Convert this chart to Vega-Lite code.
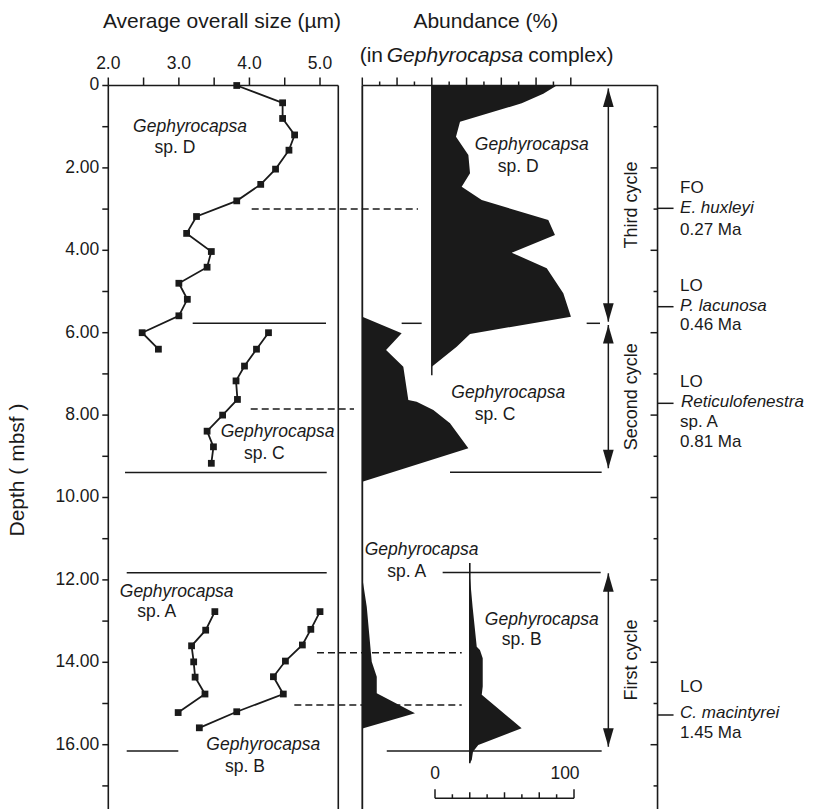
{
"$schema":"https://vega.github.io/schema/vega-lite/v6.json",
"width":814,"height":809,
"autosize":{"type":"none"},
"padding":0,
"background":"white",
"config":{"font":"Liberation Sans","view":{"stroke":null},"text":{"color":"#1a1a1a"}},
"datasets":{
"size":[
{"sp":"D","depth":0,"size":3.82},{"sp":"D","depth":0.42,"size":4.47},{"sp":"D","depth":0.8,"size":4.47},{"sp":"D","depth":1.2,"size":4.64},{"sp":"D","depth":1.57,"size":4.56},{"sp":"D","depth":2.03,"size":4.37},{"sp":"D","depth":2.4,"size":4.16},{"sp":"D","depth":2.8,"size":3.82},{"sp":"D","depth":3.18,"size":3.25},{"sp":"D","depth":3.59,"size":3.11},{"sp":"D","depth":4.03,"size":3.46},{"sp":"D","depth":4.41,"size":3.4},{"sp":"D","depth":4.8,"size":3.0},{"sp":"D","depth":5.19,"size":3.12},{"sp":"D","depth":5.59,"size":3.0},{"sp":"D","depth":6.0,"size":2.48},{"sp":"D","depth":6.4,"size":2.71},
{"sp":"C","depth":6.0,"size":4.27},{"sp":"C","depth":6.4,"size":4.1},{"sp":"C","depth":6.81,"size":3.93},{"sp":"C","depth":7.17,"size":3.81},{"sp":"C","depth":7.62,"size":3.83},{"sp":"C","depth":8.0,"size":3.62},{"sp":"C","depth":8.39,"size":3.4},{"sp":"C","depth":8.77,"size":3.49},{"sp":"C","depth":9.17,"size":3.46},
{"sp":"A","depth":12.77,"size":3.51},{"sp":"A","depth":13.22,"size":3.38},{"sp":"A","depth":13.6,"size":3.18},{"sp":"A","depth":13.99,"size":3.21},{"sp":"A","depth":14.36,"size":3.23},{"sp":"A","depth":14.77,"size":3.37},{"sp":"A","depth":15.22,"size":2.99},
{"sp":"B","depth":12.77,"size":5.0},{"sp":"B","depth":13.2,"size":4.87},{"sp":"B","depth":13.58,"size":4.75},{"sp":"B","depth":13.97,"size":4.51},{"sp":"B","depth":14.35,"size":4.34},{"sp":"B","depth":14.77,"size":4.48},{"sp":"B","depth":15.2,"size":3.82},{"sp":"B","depth":15.59,"size":3.29}
],
"poly":[
{"sp":"D","d":0,"v":89.9},{"sp":"D","d":0.2,"v":80.2},{"sp":"D","d":0.432,"v":64.7},{"sp":"D","d":0.879,"v":20.3},{"sp":"D","d":1.243,"v":17.4},{"sp":"D","d":1.687,"v":26.3},{"sp":"D","d":2.131,"v":27.5},{"sp":"D","d":2.456,"v":21.5},{"sp":"D","d":2.779,"v":35.9},{"sp":"D","d":3.265,"v":83.8},{"sp":"D","d":3.629,"v":88.6},{"sp":"D","d":4.058,"v":57.5},{"sp":"D","d":4.437,"v":82.7},{"sp":"D","d":5.04,"v":94.6},{"sp":"D","d":5.612,"v":100.1},{"sp":"D","d":6.03,"v":27.5},{"sp":"D","d":6.34,"v":17.9},{"sp":"D","d":6.825,"v":0},
{"sp":"C","d":5.612,"v":0},{"sp":"C","d":6.015,"v":28.3},{"sp":"C","d":6.42,"v":17.1},{"sp":"C","d":6.825,"v":29.5},{"sp":"C","d":7.633,"v":33.1},{"sp":"C","d":7.675,"v":39.1},{"sp":"C","d":7.876,"v":51.1},{"sp":"C","d":8.199,"v":63.1},{"sp":"C","d":8.806,"v":76.3},{"sp":"C","d":9.617,"v":0},
{"sp":"A","d":11.95,"v":0},{"sp":"A","d":12.65,"v":3.2},{"sp":"A","d":13.7,"v":6.0},{"sp":"A","d":13.985,"v":6.8},{"sp":"A","d":14.35,"v":10.4},{"sp":"A","d":14.75,"v":10.4},{"sp":"A","d":15.238,"v":37.9},{"sp":"A","d":15.6,"v":0.7},{"sp":"A","d":15.62,"v":0},
{"sp":"B","d":11.9,"v":0},{"sp":"B","d":12.65,"v":2.0},{"sp":"B","d":13.62,"v":5.0},{"sp":"B","d":13.7,"v":7.3},{"sp":"B","d":13.9,"v":9.3},{"sp":"B","d":14.59,"v":9.3},{"sp":"B","d":14.79,"v":8.6},{"sp":"B","d":15.6,"v":37.3},{"sp":"B","d":16.01,"v":6.1},{"sp":"B","d":16.17,"v":2.3},{"sp":"B","d":16.37,"v":1.4},{"sp":"B","d":16.44,"v":0}
],
"lhl":[{"d":5.772,"a":3.196,"b":5.085},{"d":9.393,"a":2.237,"b":5.095},{"d":11.825,"a":2.261,"b":5.095},{"d":16.153,"a":2.261,"b":2.992}],
"dash":[{"d":2.998,"a":4.032,"b":6.389},{"d":7.852,"a":4.018,"b":5.482},{"d":13.767,"a":4.957,"b":7.008},{"d":15.036,"a":4.636,"b":7.008}],
"rhl":[{"d":9.39,"a":63.1,"b":172.2},{"d":11.82,"a":57.8,"b":171.5},{"d":16.15,"a":17.6,"b":172.2},{"d":5.772,"a":28.3,"b":42.7},{"d":5.772,"a":161.4,"b":171.0}],
"tt":[{"v":0,"k":"M"},{"v":12.5,"k":"m"},{"v":25,"k":"M"},{"v":37.5,"k":"m"},{"v":50,"k":"M"},{"v":62.5,"k":"m"},{"v":75,"k":"M"},{"v":87.5,"k":"m"},{"v":100,"k":"M"},{"v":112.5,"k":"m"},{"v":125,"k":"M"},{"v":137.5,"k":"m"},{"v":150,"k":"M"}],
"rt":[{"d":1,"k":"m"},{"d":2,"k":"M"},{"d":3,"k":"m"},{"d":4,"k":"M"},{"d":5,"k":"m"},{"d":6,"k":"M"},{"d":7,"k":"m"},{"d":8,"k":"M"},{"d":9,"k":"m"},{"d":10,"k":"M"},{"d":11,"k":"m"},{"d":12,"k":"M"},{"d":13,"k":"m"},{"d":14,"k":"M"},{"d":15,"k":"m"},{"d":16,"k":"M"},{"d":17,"k":"m"}],
"yt":[{"d":0},{"d":1},{"d":2},{"d":3},{"d":4},{"d":5},{"d":6},{"d":7},{"d":8},{"d":9},{"d":10},{"d":11},{"d":12},{"d":13},{"d":14},{"d":15},{"d":16},{"d":17}],
"ylab":[{"d":0,"t":"0"},{"d":2,"t":"2.00"},{"d":4,"t":"4.00"},{"d":6,"t":"6.00"},{"d":8,"t":"8.00"},{"d":10,"t":"10.00"},{"d":12,"t":"12.00"},{"d":14,"t":"14.00"},{"d":16,"t":"16.00"}],
"xt":[{"v":2.0},{"v":2.5},{"v":3.0},{"v":3.5},{"v":4.0},{"v":4.5},{"v":5.0}],
"xlab":[{"v":2.0,"t":"2.0"},{"v":3.0,"t":"3.0"},{"v":4.0,"t":"4.0"},{"v":5.0,"t":"5.0"}],
"ev":[{"d":2.981},{"d":5.369},{"d":7.714},{"d":15.279}],
"arr":[{"top":0.07,"bot":5.733},{"top":5.813,"bot":9.29},{"top":11.84,"bot":16.05}],
"cyc":[{"t":"Third cycle","d":2.9},{"t":"Second cycle","d":7.553},{"t":"First cycle","d":13.944}],
"sbt":[{"v":0,"k":"E"},{"v":12.5,"k":"m"},{"v":25,"k":"M"},{"v":37.5,"k":"m"},{"v":50,"k":"M"},{"v":62.5,"k":"m"},{"v":75,"k":"M"},{"v":87.5,"k":"m"},{"v":100,"k":"E"}],
"labels":[
{"p":"L","t":"Gephyrocapsa","x":3.158,"d":1.0,"s":"i","a":"c"},
{"p":"L","t":"sp. D","x":2.945,"d":1.517,"s":"n","a":"c"},
{"p":"L","t":"Gephyrocapsa","x":4.4,"d":8.403,"s":"i","a":"c"},
{"p":"L","t":"sp. C","x":4.211,"d":8.944,"s":"n","a":"c"},
{"p":"L","t":"Gephyrocapsa","x":2.969,"d":12.286,"s":"i","a":"c"},
{"p":"L","t":"sp. A","x":2.686,"d":12.772,"s":"n","a":"c"},
{"p":"L","t":"Gephyrocapsa","x":4.196,"d":16.007,"s":"i","a":"c"},
{"p":"L","t":"sp. B","x":3.937,"d":16.549,"s":"n","a":"c"},
{"p":"R","t":"Gephyrocapsa","x":121.9,"d":1.444,"s":"i","a":"c"},
{"p":"R","t":"sp. D","x":112.2,"d":1.985,"s":"n","a":"c"},
{"p":"R","t":"Gephyrocapsa","x":105.0,"d":7.471,"s":"i","a":"c"},
{"p":"R","t":"sp. C","x":95.5,"d":7.998,"s":"n","a":"c"},
{"p":"R","t":"Gephyrocapsa","x":42.7,"d":11.274,"s":"i","a":"c"},
{"p":"R","t":"sp. A","x":31.9,"d":11.801,"s":"n","a":"c"},
{"p":"R","t":"Gephyrocapsa","x":129.1,"d":12.973,"s":"i","a":"c"},
{"p":"R","t":"sp. B","x":114.7,"d":13.459,"s":"n","a":"c"},
{"p":"R","t":"FO","x":228.6,"d":2.495,"s":"n","a":"l"},
{"p":"R","t":"E. huxleyi","x":228.6,"d":2.981,"s":"i","a":"l"},
{"p":"R","t":"0.27 Ma","x":228.6,"d":3.507,"s":"n","a":"l"},
{"p":"R","t":"LO","x":228.6,"d":4.86,"s":"n","a":"l"},
{"p":"R","t":"P. lacunosa","x":228.6,"d":5.34,"s":"i","a":"l"},
{"p":"R","t":"0.46 Ma","x":228.6,"d":5.82,"s":"n","a":"l"},
{"p":"R","t":"LO","x":228.6,"d":7.189,"s":"n","a":"l"},
{"p":"R","t":"Reticulofenestra","x":229.3,"d":7.675,"s":"i","a":"l"},
{"p":"R","t":"sp. A","x":228.6,"d":8.16,"s":"n","a":"l"},
{"p":"R","t":"0.81 Ma","x":228.6,"d":8.646,"s":"n","a":"l"},
{"p":"R","t":"LO","x":228.6,"d":14.592,"s":"n","a":"l"},
{"p":"R","t":"C. macintyrei","x":228.6,"d":15.238,"s":"i","a":"l"},
{"p":"R","t":"1.45 Ma","x":228.6,"d":15.723,"s":"n","a":"l"}
]
},
"layer":[
{
"layer":[
{"data":{"name":"size"},"mark":{"type":"line","color":"#1a1a1a","strokeWidth":1.8},
"encoding":{
"x":{"field":"size","type":"quantitative","scale":{"domain":[0.4654,12.0],"nice":false,"zero":false},"axis":null},
"y":{"field":"depth","type":"quantitative","scale":{"domain":[-2.0752,17.5607],"reverse":true,"nice":false,"zero":false},"axis":null},
"detail":{"field":"sp"},
"order":{"field":"depth","type":"quantitative"}}},
{"data":{"name":"size"},"mark":{"type":"point","shape":"square","filled":true,"size":46,"color":"#1a1a1a","opacity":1},
"encoding":{
"x":{"field":"size","type":"quantitative","scale":{"domain":[0.4654,12.0],"nice":false,"zero":false},"axis":null},
"y":{"field":"depth","type":"quantitative","scale":{"domain":[-2.0752,17.5607],"reverse":true,"nice":false,"zero":false},"axis":null}}},
{"data":{"name":"lhl"},"mark":{"type":"rule","color":"#1a1a1a","strokeWidth":1.5},
"encoding":{
"x":{"field":"a","type":"quantitative","scale":{"domain":[0.4654,12.0],"nice":false,"zero":false},"axis":null},
"x2":{"field":"b"},
"y":{"field":"d","type":"quantitative","scale":{"domain":[-2.0752,17.5607],"reverse":true,"nice":false,"zero":false},"axis":null}}},
{"data":{"name":"dash"},"mark":{"type":"rule","color":"#1a1a1a","strokeWidth":1.5,"strokeDash":[7,4]},
"encoding":{
"x":{"field":"a","type":"quantitative","scale":{"domain":[0.4654,12.0],"nice":false,"zero":false},"axis":null},
"x2":{"field":"b"},
"y":{"field":"d","type":"quantitative","scale":{"domain":[-2.0752,17.5607],"reverse":true,"nice":false,"zero":false},"axis":null}}},
{"data":{"values":[{}]},"mark":{"type":"rule","color":"#1a1a1a","strokeWidth":1.6},
"encoding":{
"x":{"datum":2.0,"type":"quantitative","scale":{"domain":[0.4654,12.0],"nice":false,"zero":false},"axis":null},
"y":{"datum":0,"type":"quantitative","scale":{"domain":[-2.0752,17.5607],"reverse":true,"nice":false,"zero":false},"axis":null},
"y2":{"datum":17.6}}},
{"data":{"values":[{}]},"mark":{"type":"rule","color":"#1a1a1a","strokeWidth":1.6},
"encoding":{
"x":{"datum":5.259,"type":"quantitative","scale":{"domain":[0.4654,12.0],"nice":false,"zero":false},"axis":null},
"y":{"datum":0,"type":"quantitative","scale":{"domain":[-2.0752,17.5607],"reverse":true,"nice":false,"zero":false},"axis":null},
"y2":{"datum":17.6}}},
{"data":{"values":[{}]},"mark":{"type":"rule","color":"#1a1a1a","strokeWidth":1.6},
"encoding":{
"x":{"datum":2.0,"type":"quantitative","scale":{"domain":[0.4654,12.0],"nice":false,"zero":false},"axis":null},
"x2":{"datum":5.259},
"y":{"datum":0,"type":"quantitative","scale":{"domain":[-2.0752,17.5607],"reverse":true,"nice":false,"zero":false},"axis":null}}},
{"data":{"name":"yt"},"mark":{"type":"rule","color":"#1a1a1a","strokeWidth":1.5,"x2Offset":-6},
"encoding":{
"x":{"datum":2.0,"type":"quantitative","scale":{"domain":[0.4654,12.0],"nice":false,"zero":false},"axis":null},
"x2":{"datum":2.0},
"y":{"field":"d","type":"quantitative","scale":{"domain":[-2.0752,17.5607],"reverse":true,"nice":false,"zero":false},"axis":null}}},
{"data":{"name":"ylab"},"mark":{"type":"text","fontSize":17.5,"align":"right","baseline":"middle","dx":-9,"color":"#1a1a1a"},
"encoding":{"text":{"field":"t"},
"x":{"datum":2.0,"type":"quantitative","scale":{"domain":[0.4654,12.0],"nice":false,"zero":false},"axis":null},
"y":{"field":"d","type":"quantitative","scale":{"domain":[-2.0752,17.5607],"reverse":true,"nice":false,"zero":false},"axis":null}}},
{"data":{"name":"xt"},"mark":{"type":"rule","color":"#1a1a1a","strokeWidth":1.5,"y2Offset":-8},
"encoding":{
"x":{"field":"v","type":"quantitative","scale":{"domain":[0.4654,12.0],"nice":false,"zero":false},"axis":null},
"y":{"datum":0,"type":"quantitative","scale":{"domain":[-2.0752,17.5607],"reverse":true,"nice":false,"zero":false},"axis":null},
"y2":{"datum":0}}},
{"data":{"name":"xlab"},"mark":{"type":"text","fontSize":17.5,"align":"center","baseline":"alphabetic","dy":-16,"color":"#1a1a1a"},
"encoding":{"text":{"field":"t"},
"x":{"field":"v","type":"quantitative","scale":{"domain":[0.4654,12.0],"nice":false,"zero":false},"axis":null},
"y":{"datum":0,"type":"quantitative","scale":{"domain":[-2.0752,17.5607],"reverse":true,"nice":false,"zero":false},"axis":null}}},
{"data":{"values":[{}]},"mark":{"type":"text","fontSize":21,"angle":270,"align":"center","baseline":"middle","color":"#1a1a1a","text":"Depth ( mbsf )"},
"encoding":{
"x":{"datum":0.7204,"type":"quantitative","scale":{"domain":[0.4654,12.0],"nice":false,"zero":false},"axis":null},
"y":{"datum":9.333,"type":"quantitative","scale":{"domain":[-2.0752,17.5607],"reverse":true,"nice":false,"zero":false},"axis":null}}},
{"data":{"name":"labels"},"transform":[{"filter":"datum.p == 'L' && datum.s == 'i'"}],
"mark":{"type":"text","fontSize":17.5,"fontStyle":"italic","align":"center","baseline":"middle","color":"#1a1a1a"},
"encoding":{"text":{"field":"t"},
"x":{"field":"x","type":"quantitative","scale":{"domain":[0.4654,12.0],"nice":false,"zero":false},"axis":null},
"y":{"field":"d","type":"quantitative","scale":{"domain":[-2.0752,17.5607],"reverse":true,"nice":false,"zero":false},"axis":null}}},
{"data":{"name":"labels"},"transform":[{"filter":"datum.p == 'L' && datum.s == 'n'"}],
"mark":{"type":"text","fontSize":17.5,"align":"center","baseline":"middle","color":"#1a1a1a"},
"encoding":{"text":{"field":"t"},
"x":{"field":"x","type":"quantitative","scale":{"domain":[0.4654,12.0],"nice":false,"zero":false},"axis":null},
"y":{"field":"d","type":"quantitative","scale":{"domain":[-2.0752,17.5607],"reverse":true,"nice":false,"zero":false},"axis":null}}},
{"data":{"values":[{}]},"mark":{"type":"text","fontSize":21,"align":"center","baseline":"alphabetic","color":"#1a1a1a","text":"Average overall size  (µm)"},
"encoding":{
"x":{"datum":3.611,"type":"quantitative","scale":{"domain":[0.4654,12.0],"nice":false,"zero":false},"axis":null},
"y":{"datum":-1.389,"type":"quantitative","scale":{"domain":[-2.0752,17.5607],"reverse":true,"nice":false,"zero":false},"axis":null}}}
]
},
{
"layer":[
{"data":{"name":"poly"},"transform":[{"filter":"datum.sp == 'C'"}],
"mark":{"type":"area","orient":"horizontal","color":"#1a1a1a","opacity":1},
"encoding":{
"x":{"field":"v","type":"quantitative","stack":null,"scale":{"domain":[-260.65,324.96],"nice":false,"zero":false},"axis":null},
"y":{"field":"d","type":"quantitative","scale":{"domain":[-2.0752,17.5607],"reverse":true,"nice":false,"zero":false},"axis":null}}},
{"data":{"name":"poly"},"transform":[{"filter":"datum.sp == 'A'"}],
"mark":{"type":"area","orient":"horizontal","color":"#1a1a1a","opacity":1},
"encoding":{
"x":{"field":"v","type":"quantitative","stack":null,"scale":{"domain":[-260.65,324.96],"nice":false,"zero":false},"axis":null},
"y":{"field":"d","type":"quantitative","scale":{"domain":[-2.0752,17.5607],"reverse":true,"nice":false,"zero":false},"axis":null}}},
{"data":{"values":[{}]},"mark":{"type":"rule","color":"#1a1a1a","strokeWidth":1.8},
"encoding":{
"x":{"datum":0,"type":"quantitative","scale":{"domain":[-260.65,324.96],"nice":false,"zero":false},"axis":null},
"y":{"datum":0,"type":"quantitative","scale":{"domain":[-2.0752,17.5607],"reverse":true,"nice":false,"zero":false},"axis":null},
"y2":{"datum":17.6}}},
{"data":{"values":[{}]},"mark":{"type":"rule","color":"#1a1a1a","strokeWidth":1.6},
"encoding":{
"x":{"datum":212.4,"type":"quantitative","scale":{"domain":[-260.65,324.96],"nice":false,"zero":false},"axis":null},
"y":{"datum":0,"type":"quantitative","scale":{"domain":[-2.0752,17.5607],"reverse":true,"nice":false,"zero":false},"axis":null},
"y2":{"datum":17.6}}},
{"data":{"values":[{}]},"mark":{"type":"rule","color":"#1a1a1a","strokeWidth":1.6},
"encoding":{
"x":{"datum":0,"type":"quantitative","scale":{"domain":[-260.65,324.96],"nice":false,"zero":false},"axis":null},
"x2":{"datum":212.4},
"y":{"datum":0,"type":"quantitative","scale":{"domain":[-2.0752,17.5607],"reverse":true,"nice":false,"zero":false},"axis":null}}},
{"data":{"name":"tt"},"transform":[{"filter":"datum.k == 'M'"}],"mark":{"type":"rule","color":"#1a1a1a","strokeWidth":1.5,"y2Offset":-8},
"encoding":{
"x":{"field":"v","type":"quantitative","scale":{"domain":[-260.65,324.96],"nice":false,"zero":false},"axis":null},
"y":{"datum":0,"type":"quantitative","scale":{"domain":[-2.0752,17.5607],"reverse":true,"nice":false,"zero":false},"axis":null},
"y2":{"datum":0}}},
{"data":{"name":"tt"},"transform":[{"filter":"datum.k == 'm'"}],"mark":{"type":"rule","color":"#1a1a1a","strokeWidth":1.5,"y2Offset":-4},
"encoding":{
"x":{"field":"v","type":"quantitative","scale":{"domain":[-260.65,324.96],"nice":false,"zero":false},"axis":null},
"y":{"datum":0,"type":"quantitative","scale":{"domain":[-2.0752,17.5607],"reverse":true,"nice":false,"zero":false},"axis":null},
"y2":{"datum":0}}},
{"data":{"name":"rt"},"transform":[{"filter":"datum.k == 'M'"}],"mark":{"type":"rule","color":"#1a1a1a","strokeWidth":1.5,"x2Offset":-7},
"encoding":{
"x":{"datum":212.4,"type":"quantitative","scale":{"domain":[-260.65,324.96],"nice":false,"zero":false},"axis":null},
"x2":{"datum":212.4},
"y":{"field":"d","type":"quantitative","scale":{"domain":[-2.0752,17.5607],"reverse":true,"nice":false,"zero":false},"axis":null}}},
{"data":{"name":"rt"},"transform":[{"filter":"datum.k == 'm'"}],"mark":{"type":"rule","color":"#1a1a1a","strokeWidth":1.5,"x2Offset":-4},
"encoding":{
"x":{"datum":212.4,"type":"quantitative","scale":{"domain":[-260.65,324.96],"nice":false,"zero":false},"axis":null},
"x2":{"datum":212.4},
"y":{"field":"d","type":"quantitative","scale":{"domain":[-2.0752,17.5607],"reverse":true,"nice":false,"zero":false},"axis":null}}},
{"data":{"name":"ev"},"mark":{"type":"rule","color":"#1a1a1a","strokeWidth":1.5,"x2Offset":16},
"encoding":{
"x":{"datum":212.4,"type":"quantitative","scale":{"domain":[-260.65,324.96],"nice":false,"zero":false},"axis":null},
"x2":{"datum":212.4},
"y":{"field":"d","type":"quantitative","scale":{"domain":[-2.0752,17.5607],"reverse":true,"nice":false,"zero":false},"axis":null}}},
{"data":{"name":"rhl"},"mark":{"type":"rule","color":"#1a1a1a","strokeWidth":1.5},
"encoding":{
"x":{"field":"a","type":"quantitative","scale":{"domain":[-260.65,324.96],"nice":false,"zero":false},"axis":null},
"x2":{"field":"b"},
"y":{"field":"d","type":"quantitative","scale":{"domain":[-2.0752,17.5607],"reverse":true,"nice":false,"zero":false},"axis":null}}},
{"data":{"name":"arr"},"mark":{"type":"rule","color":"#1a1a1a","strokeWidth":1.5},
"encoding":{
"x":{"datum":177.0,"type":"quantitative","scale":{"domain":[-260.65,324.96],"nice":false,"zero":false},"axis":null},
"y":{"field":"top","type":"quantitative","scale":{"domain":[-2.0752,17.5607],"reverse":true,"nice":false,"zero":false},"axis":null},
"y2":{"field":"bot"}}},
{"data":{"name":"arr"},"mark":{"type":"point","shape":"M0,0L0.29,1L-0.29,1Z","filled":true,"size":1369,"color":"#1a1a1a","opacity":1},
"encoding":{
"x":{"datum":177.0,"type":"quantitative","scale":{"domain":[-260.65,324.96],"nice":false,"zero":false},"axis":null},
"y":{"field":"top","type":"quantitative","scale":{"domain":[-2.0752,17.5607],"reverse":true,"nice":false,"zero":false},"axis":null}}},
{"data":{"name":"arr"},"mark":{"type":"point","shape":"M0,0L0.29,-1L-0.29,-1Z","filled":true,"size":1369,"color":"#1a1a1a","opacity":1},
"encoding":{
"x":{"datum":177.0,"type":"quantitative","scale":{"domain":[-260.65,324.96],"nice":false,"zero":false},"axis":null},
"y":{"field":"bot","type":"quantitative","scale":{"domain":[-2.0752,17.5607],"reverse":true,"nice":false,"zero":false},"axis":null}}},
{"data":{"name":"cyc"},"mark":{"type":"text","fontSize":18,"angle":270,"align":"center","baseline":"middle","color":"#1a1a1a"},
"encoding":{"text":{"field":"t"},
"x":{"datum":194.0,"type":"quantitative","scale":{"domain":[-260.65,324.96],"nice":false,"zero":false},"axis":null},
"y":{"field":"d","type":"quantitative","scale":{"domain":[-2.0752,17.5607],"reverse":true,"nice":false,"zero":false},"axis":null}}},
{"data":{"name":"labels"},"transform":[{"filter":"datum.p == 'R' && datum.s == 'i' && datum.a == 'c'"}],
"mark":{"type":"text","fontSize":17.5,"fontStyle":"italic","align":"center","baseline":"middle","color":"#1a1a1a"},
"encoding":{"text":{"field":"t"},
"x":{"field":"x","type":"quantitative","scale":{"domain":[-260.65,324.96],"nice":false,"zero":false},"axis":null},
"y":{"field":"d","type":"quantitative","scale":{"domain":[-2.0752,17.5607],"reverse":true,"nice":false,"zero":false},"axis":null}}},
{"data":{"name":"labels"},"transform":[{"filter":"datum.p == 'R' && datum.s == 'n' && datum.a == 'c'"}],
"mark":{"type":"text","fontSize":17.5,"align":"center","baseline":"middle","color":"#1a1a1a"},
"encoding":{"text":{"field":"t"},
"x":{"field":"x","type":"quantitative","scale":{"domain":[-260.65,324.96],"nice":false,"zero":false},"axis":null},
"y":{"field":"d","type":"quantitative","scale":{"domain":[-2.0752,17.5607],"reverse":true,"nice":false,"zero":false},"axis":null}}},
{"data":{"name":"labels"},"transform":[{"filter":"datum.p == 'R' && datum.s == 'i' && datum.a == 'l'"}],
"mark":{"type":"text","fontSize":17,"fontStyle":"italic","align":"left","baseline":"middle","color":"#1a1a1a"},
"encoding":{"text":{"field":"t"},
"x":{"field":"x","type":"quantitative","scale":{"domain":[-260.65,324.96],"nice":false,"zero":false},"axis":null},
"y":{"field":"d","type":"quantitative","scale":{"domain":[-2.0752,17.5607],"reverse":true,"nice":false,"zero":false},"axis":null}}},
{"data":{"name":"labels"},"transform":[{"filter":"datum.p == 'R' && datum.s == 'n' && datum.a == 'l'"}],
"mark":{"type":"text","fontSize":17,"align":"left","baseline":"middle","color":"#1a1a1a"},
"encoding":{"text":{"field":"t"},
"x":{"field":"x","type":"quantitative","scale":{"domain":[-260.65,324.96],"nice":false,"zero":false},"axis":null},
"y":{"field":"d","type":"quantitative","scale":{"domain":[-2.0752,17.5607],"reverse":true,"nice":false,"zero":false},"axis":null}}},
{"data":{"values":[{}]},"mark":{"type":"text","fontSize":21,"align":"center","baseline":"alphabetic","color":"#1a1a1a","text":"Abundance  (%)"},
"encoding":{
"x":{"datum":88.85,"type":"quantitative","scale":{"domain":[-260.65,324.96],"nice":false,"zero":false},"axis":null},
"y":{"datum":-1.389,"type":"quantitative","scale":{"domain":[-2.0752,17.5607],"reverse":true,"nice":false,"zero":false},"axis":null}}},
{"data":{"values":[{}]},"mark":{"type":"text","fontSize":21,"align":"right","baseline":"alphabetic","color":"#1a1a1a","text":"(in"},
"encoding":{
"x":{"datum":14.9,"type":"quantitative","scale":{"domain":[-260.65,324.96],"nice":false,"zero":false},"axis":null},
"y":{"datum":-0.578,"type":"quantitative","scale":{"domain":[-2.0752,17.5607],"reverse":true,"nice":false,"zero":false},"axis":null}}},
{"data":{"values":[{}]},"mark":{"type":"text","fontSize":21,"fontStyle":"italic","align":"center","baseline":"alphabetic","color":"#1a1a1a","text":"Gephyrocapsa"},
"encoding":{
"x":{"datum":66.7,"type":"quantitative","scale":{"domain":[-260.65,324.96],"nice":false,"zero":false},"axis":null},
"y":{"datum":-0.578,"type":"quantitative","scale":{"domain":[-2.0752,17.5607],"reverse":true,"nice":false,"zero":false},"axis":null}}},
{"data":{"values":[{}]},"mark":{"type":"text","fontSize":21,"align":"left","baseline":"alphabetic","color":"#1a1a1a","text":"complex)"},
"encoding":{
"x":{"datum":119.4,"type":"quantitative","scale":{"domain":[-260.65,324.96],"nice":false,"zero":false},"axis":null},
"y":{"datum":-0.578,"type":"quantitative","scale":{"domain":[-2.0752,17.5607],"reverse":true,"nice":false,"zero":false},"axis":null}}}
]
},
{
"layer":[
{"data":{"name":"poly"},"transform":[{"filter":"datum.sp == 'D'"}],
"mark":{"type":"area","orient":"horizontal","color":"#1a1a1a","opacity":1},
"encoding":{
"x":{"field":"v","type":"quantitative","stack":null,"scale":{"domain":[-310.65,274.96],"nice":false,"zero":false},"axis":null},
"y":{"field":"d","type":"quantitative","scale":{"domain":[-2.0752,17.5607],"reverse":true,"nice":false,"zero":false},"axis":null}}},
{"data":{"values":[{}]},"mark":{"type":"rule","color":"#1a1a1a","strokeWidth":1.5},
"encoding":{
"x":{"datum":0,"type":"quantitative","scale":{"domain":[-310.65,274.96],"nice":false,"zero":false},"axis":null},
"y":{"datum":0,"type":"quantitative","scale":{"domain":[-2.0752,17.5607],"reverse":true,"nice":false,"zero":false},"axis":null},
"y2":{"datum":7.03}}}
]
},
{
"layer":[
{"data":{"name":"poly"},"transform":[{"filter":"datum.sp == 'B'"}],
"mark":{"type":"area","orient":"horizontal","color":"#1a1a1a","opacity":1},
"encoding":{
"x":{"field":"v","type":"quantitative","stack":null,"scale":{"domain":[-337.99,247.63],"nice":false,"zero":false},"axis":null},
"y":{"field":"d","type":"quantitative","scale":{"domain":[-2.0752,17.5607],"reverse":true,"nice":false,"zero":false},"axis":null}}},
{"data":{"values":[{}]},"mark":{"type":"rule","color":"#1a1a1a","strokeWidth":1.6},
"encoding":{
"x":{"datum":0,"type":"quantitative","scale":{"domain":[-337.99,247.63],"nice":false,"zero":false},"axis":null},
"y":{"datum":11.59,"type":"quantitative","scale":{"domain":[-2.0752,17.5607],"reverse":true,"nice":false,"zero":false},"axis":null},
"y2":{"datum":16.45}}}
]
},
{
"layer":[
{"data":{"values":[{}]},"mark":{"type":"rule","color":"#1a1a1a","strokeWidth":1.5},
"encoding":{
"x":{"datum":0,"type":"quantitative","scale":{"domain":[-312.95,272.66],"nice":false,"zero":false},"axis":null},
"x2":{"datum":100},
"y":{"datum":17.3,"type":"quantitative","scale":{"domain":[-2.0752,17.5607],"reverse":true,"nice":false,"zero":false},"axis":null}}},
{"data":{"name":"sbt"},"transform":[{"filter":"datum.k == 'E'"}],"mark":{"type":"rule","color":"#1a1a1a","strokeWidth":1.5,"y2Offset":-9},
"encoding":{
"x":{"field":"v","type":"quantitative","scale":{"domain":[-312.95,272.66],"nice":false,"zero":false},"axis":null},
"y":{"datum":17.3,"type":"quantitative","scale":{"domain":[-2.0752,17.5607],"reverse":true,"nice":false,"zero":false},"axis":null},
"y2":{"datum":17.3}}},
{"data":{"name":"sbt"},"transform":[{"filter":"datum.k == 'M'"}],"mark":{"type":"rule","color":"#1a1a1a","strokeWidth":1.5,"y2Offset":-6},
"encoding":{
"x":{"field":"v","type":"quantitative","scale":{"domain":[-312.95,272.66],"nice":false,"zero":false},"axis":null},
"y":{"datum":17.3,"type":"quantitative","scale":{"domain":[-2.0752,17.5607],"reverse":true,"nice":false,"zero":false},"axis":null},
"y2":{"datum":17.3}}},
{"data":{"name":"sbt"},"transform":[{"filter":"datum.k == 'm'"}],"mark":{"type":"rule","color":"#1a1a1a","strokeWidth":1.5,"y2Offset":-4},
"encoding":{
"x":{"field":"v","type":"quantitative","scale":{"domain":[-312.95,272.66],"nice":false,"zero":false},"axis":null},
"y":{"datum":17.3,"type":"quantitative","scale":{"domain":[-2.0752,17.5607],"reverse":true,"nice":false,"zero":false},"axis":null},
"y2":{"datum":17.3}}},
{"data":{"values":[{}]},"mark":{"type":"text","fontSize":17.5,"align":"center","baseline":"middle","color":"#1a1a1a","text":"0"},
"encoding":{
"x":{"datum":0,"type":"quantitative","scale":{"domain":[-312.95,272.66],"nice":false,"zero":false},"axis":null},
"y":{"datum":16.72,"type":"quantitative","scale":{"domain":[-2.0752,17.5607],"reverse":true,"nice":false,"zero":false},"axis":null}}},
{"data":{"values":[{}]},"mark":{"type":"text","fontSize":17.5,"align":"center","baseline":"middle","color":"#1a1a1a","text":"100","dx":-9},
"encoding":{
"x":{"datum":100,"type":"quantitative","scale":{"domain":[-312.95,272.66],"nice":false,"zero":false},"axis":null},
"y":{"datum":16.72,"type":"quantitative","scale":{"domain":[-2.0752,17.5607],"reverse":true,"nice":false,"zero":false},"axis":null}}}
]
}
],
"resolve":{"scale":{"x":"independent"}}
}
